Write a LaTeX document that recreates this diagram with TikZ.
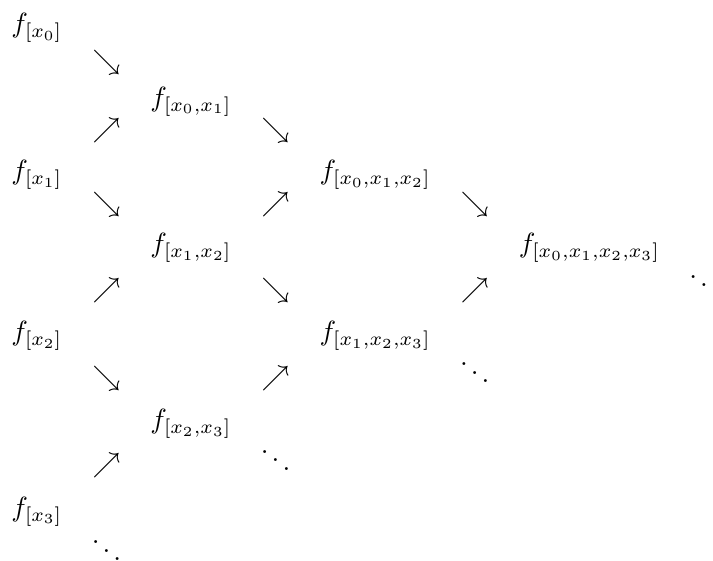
\documentclass[tikz,border=0pt]{standalone}
\usepackage{amsmath}
\usepackage{tikz}
\usetikzlibrary{matrix,calc}

\begin{document}
\begin{tikzpicture}[
            divdiff/.style={matrix of math nodes, nodes={anchor=base, inner sep=0pt, text height=9.13pt, text depth=3.5pt},
                    column sep=10pt, row sep=0pt, nodes in empty cells,
                    every even row/.style={nodes={text height=7.96pt, text depth=5.83pt}},
                },
            toprow/.style={text height=9.8pt, text depth=3.99pt},
            dotcell/.style={text height=12.53pt, text depth=6.41pt}]

        \matrix[divdiff] (dd) {
            f_{[x_0]} & & & & & & & \\
            |[toprow]| & |[toprow]| \searrow \\
            & & f_{[x_0,x_1]} & & & & & \\
            & \nearrow & & \searrow & & & & \\
            f_{[x_1]} & & & & f_{[x_0,x_1,x_2]} & & & \\
            & \searrow & & \nearrow & & \searrow & & \\
            & & f_{[x_1,x_2]} & & & & f_{[x_0,x_1,x_2,x_3]} & \\
            & \nearrow & & \searrow & & \nearrow & & |[dotcell]| \ddots \\
            f_{[x_2]} & & & & f_{[x_1,x_2,x_3]} & & & \\
            & \searrow & & \nearrow & & |[dotcell]| \ddots & & \\
            & & f_{[x_2,x_3]} & & & & & \\
            & \nearrow & & |[dotcell]| \ddots & & & & \\
            f_{[x_3]} & & & & & & & \\
            & |[dotcell, text height=13.5pt, text depth=0pt]| \ddots \\
        };

        % frame of the reference picture
        \pgfresetboundingbox
        \path[use as bounding box] ($(dd-1-1.base west)+(-3.9pt,11.72pt)$) rectangle ++(256.5pt,-201.8pt);
    \end{tikzpicture}
\end{document}
